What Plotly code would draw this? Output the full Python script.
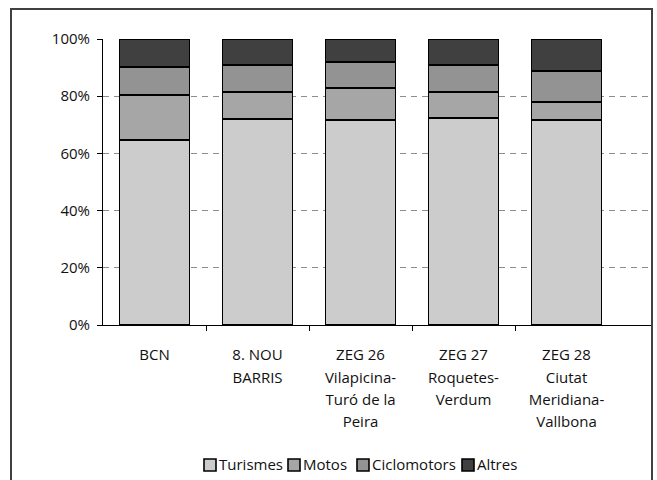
import plotly.graph_objects as go

categories = ["BCN", "8. NOU<br>BARRIS", "ZEG 26<br>Vilapicina-<br>Turó de la<br>Peira",
              "ZEG 27<br>Roquetes-<br>Verdum", "ZEG 28<br>Ciutat<br>Meridiana-<br>Vallbona"]
turismes = [64.7, 71.9, 71.6, 72.4, 71.6]
motos = [15.8, 9.7, 11.3, 9.0, 6.4]
ciclomotors = [9.6, 9.4, 9.1, 9.6, 10.7]
altres = [9.9, 9.0, 8.0, 9.0, 11.3]
y_ticks = [0, 20, 40, 60, 80, 100]
series_names = ["Turismes", "Motos", "Ciclomotors", "Altres"]
series_values = [turismes, motos, ciclomotors, altres]
series_colors = ["#CCCCCC", "#A6A6A6", "#939393", "#404040"]

FONT = "Open Sans"
TXT = "#111111"
W, H = 657, 480
ml, mr, mt, mb = 103, 6, 39, 155
pw = W - ml - mr
ph = H - mt - mb
cat_w = 103
x_range = [-0.5, -0.5 + pw / cat_w]


def px_x(x):
    return (x - ml) / pw


def px_y(y):
    return (H - mb - y) / ph


fig = go.Figure()
for name, vals, col in zip(series_names, series_values, series_colors):
    fig.add_trace(go.Bar(x=categories, y=vals, name=name, showlegend=False,
                         marker=dict(color=col, line=dict(color="#000000", width=1.8))))
# empty helper trace so the category-boundary tick axis is drawn
fig.add_trace(go.Scatter(x=[], y=[], xaxis="x2", yaxis="y", showlegend=False, hoverinfo="skip"))

ticktext = ["<br>".join(f"<span style='font-size:15px'>{ln}</span>" for ln in c.split("<br>"))
            for c in categories]

# legend drawn as layout decorations
legend_box_x = [204, 288, 357, 462]
shapes = [dict(type="rect", xref="paper", yref="paper",
               x0=px_x(11), x1=px_x(652), y0=px_y(495), y1=px_y(9),
               line=dict(color="#404040", width=2), fillcolor="rgba(0,0,0,0)", layer="above")]
annotations = []
for bx, name, col in zip(legend_box_x, series_names, series_colors):
    shapes.append(dict(type="rect", xref="paper", yref="paper",
                       x0=px_x(bx), x1=px_x(bx + 12), y0=px_y(471), y1=px_y(459),
                       line=dict(color="#000000", width=1.6), fillcolor=col))
    annotations.append(dict(xref="paper", yref="paper", x=px_x(bx + 13), y=px_y(464),
                            xanchor="left", yanchor="middle", showarrow=False, text=name,
                            font=dict(size=15, color=TXT, family=FONT)))

fig.update_layout(
    width=W, height=H,
    margin=dict(l=ml, r=mr, t=mt, b=mb, pad=0),
    barmode="stack", bargap=0.32,
    plot_bgcolor="white", paper_bgcolor="white",
    font=dict(family=FONT, size=15, color=TXT),
    showlegend=False,
    xaxis=dict(range=x_range, showline=True, linecolor="#000000", linewidth=1,
               ticks="", tickvals=categories, ticktext=ticktext, ticklabelstandoff=14,
               showgrid=False, tickfont=dict(size=17), fixedrange=True),
    xaxis2=dict(overlaying="x", anchor="y", side="bottom", range=x_range, type="linear",
                tickvals=[0.5, 1.5, 2.5, 3.5], ticks="outside", ticklen=5, tickcolor="#000000",
                showticklabels=False, showgrid=False, zeroline=False, showline=False,
                fixedrange=True),
    yaxis=dict(range=[0, 100], tickvals=y_ticks, ticktext=[f"{v}%" for v in y_ticks],
               showline=True, linecolor="#000000", linewidth=1, ticks="outside", ticklen=5,
               tickcolor="#000000", showgrid=True, gridcolor="#8C8C8C", griddash="6px,5px",
               gridwidth=1, zeroline=False, tickfont=dict(size=15), ticklabelstandoff=4),
    shapes=shapes,
    annotations=annotations,
)

fig.write_html("out.html", config={"displayModeBar": False},
               post_script="document.body.style.margin='0';document.body.style.overflow='hidden';")
